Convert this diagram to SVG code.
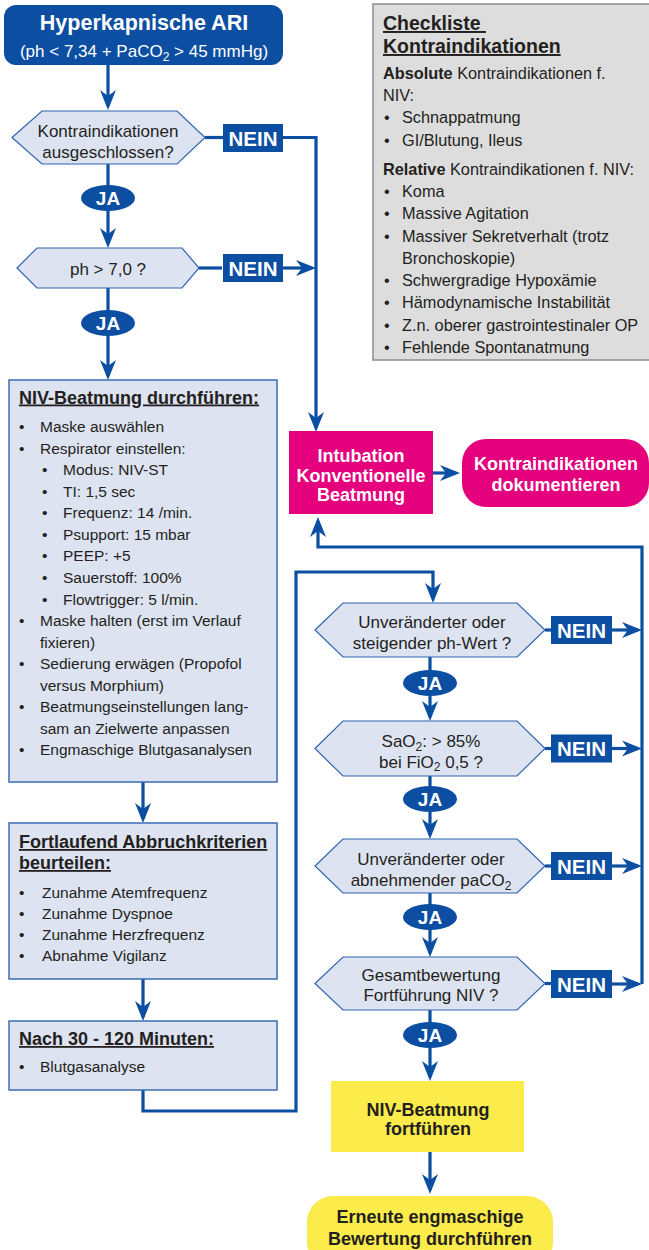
<svg xmlns="http://www.w3.org/2000/svg" width="649" height="1250" viewBox="0 0 649 1250">
<defs>
<style>
text{font-family:"Liberation Sans",Arial,sans-serif;fill:#231F20}
.w{fill:#fff;font-weight:bold}
.b{font-weight:bold}
.li{font-size:15.5px}
.ck{font-size:16.3px}
.dq{font-size:17px}
.hdr{font-size:18px;font-weight:bold;text-decoration:underline}
.nein{font-size:20.5px;font-weight:bold;fill:#fff}
.ja{font-size:19px;font-weight:bold;fill:#fff}
.pink{fill:#E5007D}
.yel{fill:#FBEB4B}
.box{fill:#DEE3F2;stroke:#3A6DB5;stroke-width:1.5}
.hex{fill:#DEE3F2;stroke:#2F64B0;stroke-width:1.2}
.blue{fill:#0B4EA2}
.con{fill:none;stroke:#0B4EA2;stroke-width:3.2}
.arr{marker-end:url(#ah)}
</style>
<marker id="ah" markerUnits="userSpaceOnUse" markerWidth="22" markerHeight="18" refX="16" refY="8" orient="auto" overflow="visible">
<path d="M0,0 L20,8 L0,16 L6,8 Z" fill="#0B4EA2"/>
</marker>
</defs>

<g id="connectors">
<path class="con arr" d="M108,64 V106"/>
<path class="con" d="M108,164 V186"/>
<path class="con arr" d="M108,210 V244"/>
<path class="con" d="M205,137.5 H223"/>
<path class="con arr" d="M283,137.5 H316 V428"/>
<path class="con" d="M199,268 H222"/>
<path class="con arr" d="M283,268 H312"/>
<path class="con" d="M108,288 V312"/>
<path class="con arr" d="M108,334 V376"/>
<path class="con arr" d="M143,782 V819"/>
<path class="con arr" d="M143,979 V1017"/>
<path class="con arr" d="M143,1090 V1111 H296 V572 H433 V599"/>
<path class="con" d="M430,657 V672"/>
<path class="con arr" d="M430,694 V717"/>
<path class="con" d="M430,776 V788"/>
<path class="con arr" d="M430,810 V835"/>
<path class="con" d="M430,893 V906"/>
<path class="con arr" d="M430,928 V953"/>
<path class="con" d="M430,1010 V1024"/>
<path class="con arr" d="M430,1046 V1077"/>
<path class="con arr" d="M430,1152 V1190"/>
<path class="con" d="M545,630 H551"/>
<path class="con arr" d="M612,630 H638"/>
<path class="con" d="M545,748.5 H551"/>
<path class="con arr" d="M612,748.5 H638"/>
<path class="con" d="M545,866 H551"/>
<path class="con arr" d="M612,866 H638"/>
<path class="con" d="M545,983.5 H551"/>
<path class="con arr" d="M612,984 H638"/>
<path class="con arr" d="M642,984 V547 H318 V521"/>
<path class="con arr" d="M433,473 H456"/>
</g>

<g id="title">
<rect x="4" y="5" width="279" height="60" rx="12" class="blue"/>
<text class="w" x="144" y="29.5" text-anchor="middle" font-size="21.5">Hyperkapnische ARI</text>
<text x="144" y="57" text-anchor="middle" font-size="17" style="fill:#fff">(ph &lt; 7,34 + PaCO<tspan font-size="12" dy="3.5">2</tspan><tspan dy="-3.5"> &gt; 45 mmHg)</tspan></text>
</g>

<g id="checklist">
<rect x="373" y="4" width="280" height="356" fill="#DDDDDD" stroke="#8C8C8C" stroke-width="1.5"/>
<text class="b" x="383" y="30" font-size="19.5" text-decoration="underline">Checkliste&#160;</text>
<text class="b" x="383" y="53" font-size="19.5" text-decoration="underline">Kontraindikationen</text>
<text class="ck" x="383" y="79"><tspan class="b">Absolute</tspan> Kontraindikationen f.</text>
<text class="ck" x="383" y="101">NIV:</text>
<text class="ck" y="123"><tspan x="384">•</tspan><tspan x="402">Schnappatmung</tspan></text>
<text class="ck" y="146"><tspan x="384">•</tspan><tspan x="402">GI/Blutung, Ileus</tspan></text>
<text class="ck" x="383" y="175"><tspan class="b">Relative</tspan> Kontraindikationen f. NIV:</text>
<text class="ck" y="197"><tspan x="384">•</tspan><tspan x="402">Koma</tspan></text>
<text class="ck" y="219"><tspan x="384">•</tspan><tspan x="402">Massive Agitation</tspan></text>
<text class="ck" y="242"><tspan x="384">•</tspan><tspan x="402">Massiver Sekretverhalt (trotz</tspan></text>
<text class="ck" x="402" y="264">Bronchoskopie)</text>
<text class="ck" y="286"><tspan x="384">•</tspan><tspan x="402">Schwergradige Hypoxämie</tspan></text>
<text class="ck" y="308"><tspan x="384">•</tspan><tspan x="402">Hämodynamische Instabilität</tspan></text>
<text class="ck" y="331"><tspan x="384">•</tspan><tspan x="402">Z.n. oberer gastrointestinaler OP</tspan></text>
<text class="ck" y="353"><tspan x="384">•</tspan><tspan x="402">Fehlende Spontanatmung</tspan></text>
</g>

<g id="dec-kontra">
<polygon class="hex" points="12,137.5 42,111 177,111 205,137.5 177,164 42,164"/>
<text class="dq" x="108" y="137" text-anchor="middle">Kontraindikationen</text>
<text class="dq" x="108" y="157.5" text-anchor="middle">ausgeschlossen?</text>
</g>
<g id="nein-1"><rect x="223" y="124" width="60" height="28" class="blue"/><text class="nein" x="253" y="145.5" text-anchor="middle">NEIN</text></g>
<g id="ja-1"><ellipse cx="108" cy="198" rx="27" ry="13" class="blue"/><text class="ja" x="108" y="205" text-anchor="middle">JA</text></g>

<g id="dec-ph">
<polygon class="hex" points="17,268 37,248 182,248 199,268 182,288 37,288"/>
<text class="dq" x="108" y="275" text-anchor="middle">ph &gt; 7,0 ?</text>
</g>
<g id="nein-2"><rect x="223" y="254" width="60" height="28" class="blue"/><text class="nein" x="253" y="275.5" text-anchor="middle">NEIN</text></g>
<g id="ja-2"><ellipse cx="108" cy="323" rx="27" ry="13" class="blue"/><text class="ja" x="108" y="330" text-anchor="middle">JA</text></g>

<g id="niv-box">
<rect x="9" y="380" width="268" height="402" class="box"/>
<text class="hdr" x="19" y="403.5">NIV-Beatmung durchführen:</text>
<text class="li" y="432"><tspan x="19">•</tspan><tspan x="40">Maske auswählen</tspan></text>
<text class="li" y="453.5"><tspan x="19">•</tspan><tspan x="40">Respirator einstellen:</tspan></text>
<text class="li" y="475"><tspan x="42">•</tspan><tspan x="63">Modus: NIV-ST</tspan></text>
<text class="li" y="496.5"><tspan x="42">•</tspan><tspan x="63">TI: 1,5 sec</tspan></text>
<text class="li" y="518"><tspan x="42">•</tspan><tspan x="63">Frequenz: 14 /min.</tspan></text>
<text class="li" y="539.5"><tspan x="42">•</tspan><tspan x="63">Psupport: 15 mbar</tspan></text>
<text class="li" y="561"><tspan x="42">•</tspan><tspan x="63">PEEP: +5</tspan></text>
<text class="li" y="583"><tspan x="42">•</tspan><tspan x="63">Sauerstoff: 100%</tspan></text>
<text class="li" y="604.5"><tspan x="42">•</tspan><tspan x="63">Flowtrigger: 5 l/min.</tspan></text>
<text class="li" y="626"><tspan x="19">•</tspan><tspan x="40">Maske halten (erst im Verlauf</tspan></text>
<text class="li" x="40" y="647.5">fixieren)</text>
<text class="li" y="669"><tspan x="19">•</tspan><tspan x="40">Sedierung erwägen (Propofol</tspan></text>
<text class="li" x="40" y="690.5">versus Morphium)</text>
<text class="li" y="712"><tspan x="19">•</tspan><tspan x="40">Beatmungseinstellungen lang-</tspan></text>
<text class="li" x="40" y="733.5">sam an Zielwerte anpassen</text>
<text class="li" y="755"><tspan x="19">•</tspan><tspan x="40">Engmaschige Blutgasanalysen</tspan></text>
</g>

<g id="abbruch-box">
<rect x="9" y="823" width="268" height="156" class="box"/>
<text class="hdr" x="19" y="848">Fortlaufend Abbruchkriterien</text>
<text class="hdr" x="19" y="869">beurteilen:</text>
<text class="li" y="898"><tspan x="19">•</tspan><tspan x="42">Zunahme Atemfrequenz</tspan></text>
<text class="li" y="919"><tspan x="19">•</tspan><tspan x="42">Zunahme Dyspnoe</tspan></text>
<text class="li" y="940"><tspan x="19">•</tspan><tspan x="42">Zunahme Herzfrequenz</tspan></text>
<text class="li" y="961"><tspan x="19">•</tspan><tspan x="42">Abnahme Vigilanz</tspan></text>
</g>

<g id="nach-box">
<rect x="9" y="1021" width="268" height="69" class="box"/>
<text class="hdr" x="19" y="1045">Nach 30 - 120 Minuten:</text>
<text class="li" y="1072"><tspan x="19">•</tspan><tspan x="40">Blutgasanalyse</tspan></text>
</g>

<g id="intubation">
<rect x="289" y="431" width="144" height="83" class="pink"/>
<text class="w" x="361" y="462" text-anchor="middle" font-size="18">Intubation</text>
<text class="w" x="361" y="481.5" text-anchor="middle" font-size="18">Konventionelle</text>
<text class="w" x="361" y="500.5" text-anchor="middle" font-size="18">Beatmung</text>
</g>

<g id="dokumentieren">
<rect x="462" y="439" width="187" height="68" rx="24" class="pink"/>
<text class="w" x="556" y="470" text-anchor="middle" font-size="18">Kontraindikationen</text>
<text class="w" x="556" y="491" text-anchor="middle" font-size="18">dokumentieren</text>
</g>

<g id="dec-ph-wert">
<polygon class="hex" points="315,630 343,603 517,603 545,630 517,657 343,657"/>
<text class="dq" x="432" y="628" text-anchor="middle">Unveränderter oder</text>
<text class="dq" x="432" y="648.5" text-anchor="middle">steigender ph-Wert ?</text>
</g>
<g id="nein-3"><rect x="551" y="616" width="61" height="28" class="blue"/><text class="nein" x="581.5" y="637.5" text-anchor="middle">NEIN</text></g>
<g id="ja-3"><ellipse cx="430" cy="683" rx="27" ry="13" class="blue"/><text class="ja" x="430" y="690" text-anchor="middle">JA</text></g>

<g id="dec-sao2">
<polygon class="hex" points="315,748.5 343,721 517,721 545,748.5 517,776 343,776"/>
<text class="dq" x="431" y="747" text-anchor="middle">SaO<tspan font-size="12" dy="3.5">2</tspan><tspan dy="-3.5">: &gt; 85%</tspan></text>
<text class="dq" x="431" y="767.5" text-anchor="middle">bei FiO<tspan font-size="12" dy="3.5">2</tspan><tspan dy="-3.5"> 0,5 ?</tspan></text>
</g>
<g id="nein-4"><rect x="551" y="734.5" width="61" height="28" class="blue"/><text class="nein" x="581.5" y="756" text-anchor="middle">NEIN</text></g>
<g id="ja-4"><ellipse cx="430" cy="799" rx="27" ry="13" class="blue"/><text class="ja" x="430" y="806" text-anchor="middle">JA</text></g>

<g id="dec-paco2">
<polygon class="hex" points="315,866 343,839 517,839 545,866 517,893 343,893"/>
<text class="dq" x="431" y="865" text-anchor="middle">Unveränderter oder</text>
<text class="dq" x="431" y="886" text-anchor="middle">abnehmender paCO<tspan font-size="12" dy="3.5">2</tspan></text>
</g>
<g id="nein-5"><rect x="551" y="852" width="61" height="28" class="blue"/><text class="nein" x="581.5" y="873.5" text-anchor="middle">NEIN</text></g>
<g id="ja-5"><ellipse cx="430" cy="917" rx="27" ry="13" class="blue"/><text class="ja" x="430" y="924" text-anchor="middle">JA</text></g>

<g id="dec-gesamt">
<polygon class="hex" points="315,983.5 343,957 517,957 545,983.5 517,1010 343,1010"/>
<text class="dq" x="431" y="980.5" text-anchor="middle">Gesamtbewertung</text>
<text class="dq" x="431" y="1001" text-anchor="middle">Fortführung NIV ?</text>
</g>
<g id="nein-6"><rect x="551" y="970" width="61" height="28" class="blue"/><text class="nein" x="581.5" y="991.5" text-anchor="middle">NEIN</text></g>
<g id="ja-6"><ellipse cx="430" cy="1035" rx="27" ry="13" class="blue"/><text class="ja" x="430" y="1042" text-anchor="middle">JA</text></g>

<g id="fortfuehren">
<rect x="331" y="1081" width="193" height="71" class="yel"/>
<text class="b" x="428" y="1116" text-anchor="middle" font-size="18">NIV-Beatmung</text>
<text class="b" x="428" y="1135" text-anchor="middle" font-size="18">fortführen</text>
</g>

<g id="bewertung">
<rect x="307" y="1196" width="246" height="72" rx="26" class="yel"/>
<text class="b" x="430" y="1223" text-anchor="middle" font-size="18">Erneute engmaschige</text>
<text class="b" x="430" y="1245" text-anchor="middle" font-size="18">Bewertung durchführen</text>
</g>
</svg>
